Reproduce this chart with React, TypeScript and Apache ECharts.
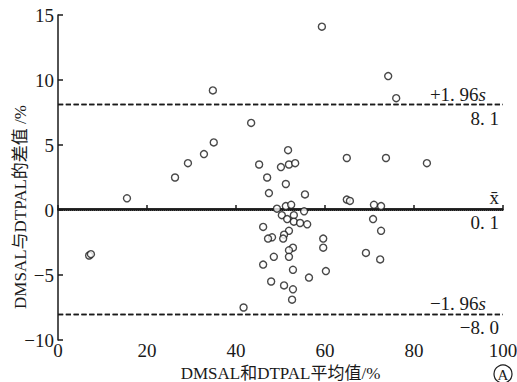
import React, { useEffect, useRef } from "react";
import * as echarts from "echarts";

const xVals = [59.3, 74.2, 76.0, 34.8, 43.4, 35.0, 32.8, 29.2, 26.3, 15.5, 51.7, 45.2, 50.1, 51.9, 53.3, 64.9, 73.7, 82.9, 47.0, 51.2, 47.4, 55.5, 64.9, 65.6, 71.0, 72.6, 49.2, 51.2, 52.4, 55.3, 50.3, 51.5, 53.0, 53.0, 54.4, 56.0, 46.1, 70.8, 72.6, 51.9, 50.8, 48.1, 47.2, 50.6, 59.6, 59.6, 52.8, 51.9, 51.9, 48.5, 69.2, 72.4, 46.1, 52.8, 60.2, 56.4, 47.9, 50.8, 52.8, 52.6, 41.7, 7.0, 7.4];
const yVals = [14.1, 10.3, 8.6, 9.2, 6.7, 5.2, 4.3, 3.6, 2.5, 0.9, 4.6, 3.5, 3.3, 3.5, 3.6, 4.0, 4.0, 3.6, 2.5, 2.0, 1.3, 1.2, 0.8, 0.7, 0.4, 0.3, 0.1, 0.3, 0.4, -0.1, -0.4, -0.7, -0.4, -0.9, -1.0, -1.1, -1.3, -0.7, -1.6, -1.6, -1.9, -2.1, -2.2, -2.2, -2.2, -2.9, -2.9, -3.1, -3.6, -3.6, -3.3, -3.8, -4.2, -4.6, -4.7, -5.2, -5.5, -5.8, -6.1, -6.9, -7.5, -3.5, -3.4];

const meanDiff = 0.1;
const upperLimit = 8.1;
const lowerLimit = -8.0;

const xTicks = [0, 20, 40, 60, 80, 100];
const yTicks = [-10, -5, 0, 5, 10, 15];

const xName = "DMSAL和DTPAL平均值/%";
const yName = "DMSAL与DTPAL的差值 /%";
const panelLabel = "A";

const FONT = "'Liberation Serif', 'Noto Sans CJK SC', serif";
const INK = "#1a1a1a";

const fmt = (v: number) => v.toFixed(1).replace("-", "−").replace(".", ". ");

export default function App() {
  const ref = useRef<HTMLDivElement>(null);
  useEffect(() => {
    if (!ref.current) return;
    const chart = echarts.init(ref.current, undefined, { renderer: "svg" });
    const data = xVals.map((x, i) => [x, yVals[i]]);
    const rich = {
      n: { fontSize: 19, fontFamily: FONT, color: INK },
      i: { fontSize: 19, fontFamily: FONT, color: INK, fontStyle: "italic" },
    };
    const mk = (y: number, text: string, pos: string, type: string, width: number, extra: any = {}) => ({
      yAxis: y,
      lineStyle: { type: type as any, color: INK, width },
      label: {
        show: true,
        position: pos as any,
        formatter: text,
        color: INK,
        fontSize: 19,
        fontFamily: FONT,
        rich,
        ...extra,
      },
    });
    chart.setOption({
      animation: false,
      grid: { left: 58, right: 14, top: 15, bottom: 42, containLabel: false, outerBoundsMode: "none" },
      xAxis: {
        type: "value",
        min: xTicks[0],
        max: xTicks[xTicks.length - 1],
        interval: 20,
        name: xName,
        nameLocation: "middle",
        nameGap: 24,
        nameTextStyle: { fontSize: 17, fontFamily: FONT, color: INK },
        axisLine: { show: true, lineStyle: { color: INK, width: 1.5 } },
        axisTick: { show: true, inside: true, length: 5, lineStyle: { color: INK, width: 1.5 } },
        axisLabel: { fontSize: 19, fontFamily: FONT, color: INK, margin: 1 },
        splitLine: { show: false },
      },
      yAxis: {
        type: "value",
        min: yTicks[0],
        max: yTicks[yTicks.length - 1],
        interval: 5,
        axisLine: { show: true, onZero: false, lineStyle: { color: INK, width: 1.5 } },
        axisTick: { show: true, inside: true, length: 5, lineStyle: { color: INK, width: 1.5 } },
        axisLabel: { fontSize: 19, fontFamily: FONT, color: INK, margin: 4, formatter: (v: number) => String(v).replace("-", "−") },
        splitLine: { show: false },
      },
      graphic: [
        {
          type: "text",
          x: 20,
          y: 207,
          rotation: Math.PI / 2,
          style: {
            text: yName,
            fontSize: 17,
            fontFamily: FONT,
            fill: INK,
            align: "center",
            verticalAlign: "middle",
          },
        },
        {
          type: "circle",
          shape: { cx: 503, cy: 374, r: 9 },
          style: { fill: "none", stroke: INK, lineWidth: 1.2 },
        },
        {
          type: "text",
          x: 503,
          y: 375,
          style: {
            text: panelLabel,
            fontSize: 15,
            fontFamily: FONT,
            fill: INK,
            align: "center",
            verticalAlign: "middle",
          },
        },
      ],
      series: [
        {
          type: "scatter",
          data,
          symbol: "circle",
          symbolSize: 7,
          itemStyle: { color: "#fff", borderColor: INK, borderWidth: 1.4 },
          z: 5,
          markLine: {
            silent: true,
            symbol: "none",
            z: 3,
            data: [
              { yAxis: 0, lineStyle: { type: "dotted", color: INK, width: 1 }, label: { show: false } },
              mk(meanDiff, "x̄", "insideEndTop", "solid", 1.5, { distance: 2, padding: [0, 2, 0, 0] }),
              mk(meanDiff, fmt(meanDiff), "insideEndBottom", "solid", 1.5, { distance: 4 }),
              mk(upperLimit, "{n|+1. 96}{i|s}", "insideEndTop", "dashed", 1.3, { padding: [0, 16, 0, 0], distance: 1 }),
              mk(upperLimit, fmt(upperLimit), "insideEndBottom", "dashed", 1.3, { distance: 4 }),
              mk(lowerLimit, "{n|−1. 96}{i|s}", "insideEndTop", "dashed", 1.3, { padding: [0, 16, 0, 0], distance: 1 }),
              mk(lowerLimit, fmt(lowerLimit), "insideEndBottom", "dashed", 1.3, { distance: 4 }),
            ],
          },
        },
      ],
    });
    return () => chart.dispose();
  }, []);
  return (
    <div style={{ position: "fixed", left: 0, top: 0, width: 517, height: 382, background: "#fff" }}>
      <div ref={ref} style={{ width: 517, height: 382 }} />
    </div>
  );
}
